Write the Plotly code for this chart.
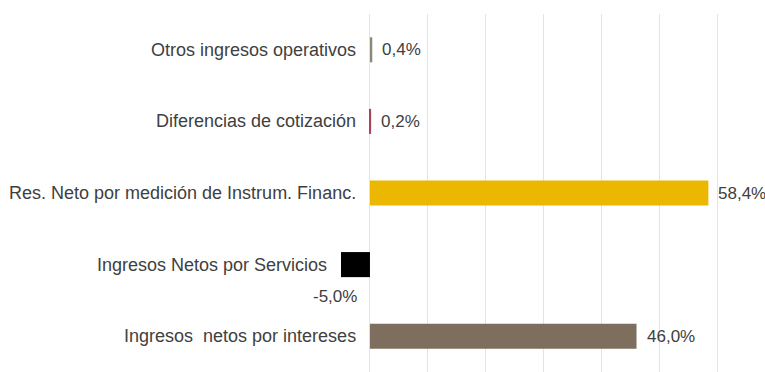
import plotly.graph_objects as go

categories = [
    "Ingresos  netos por intereses",
    "Ingresos Netos por Servicios",
    "Res. Neto por medición de Instrum. Financ.",
    "Diferencias de cotización",
    "Otros ingresos operativos",
]
values = [46.0, -5.0, 58.4, 0.2, 0.4]
value_labels = ["46,0%", "-5,0%", "58,4%", "0,2%", "0,4%"]
colors = ["#7d6e5e", "#000000", "#ebb700", "#a84455", "#8a8a78"]

CAT_FONT = dict(family="Liberation Sans, Arial, sans-serif", size=18, color="#404040")
VAL_FONT = dict(family="Liberation Sans, Arial, sans-serif", size=17, color="#404040")

fig = go.Figure()
fig.add_trace(go.Bar(
    x=values,
    y=categories,
    orientation="h",
    width=0.35,
    marker=dict(color=colors, line=dict(width=0)),
    hoverinfo="skip",
))

annotations = []
for cat, v, lab in zip(categories, values, value_labels):
    annotations.append(dict(
        x=min(0, v), y=cat, xref="x", yref="y", text=cat, showarrow=False,
        xanchor="right", yanchor="middle", xshift=-12, font=CAT_FONT,
    ))
    if v >= 0:
        annotations.append(dict(
            x=v, y=cat, xref="x", yref="y", text=lab, showarrow=False,
            xanchor="left", yanchor="middle", xshift=8, font=VAL_FONT,
        ))
    else:
        annotations.append(dict(
            x=v, y=cat, xref="x", yref="y", text=lab, showarrow=False,
            xanchor="center", yanchor="middle", xshift=-6, yshift=-32, font=VAL_FONT,
        ))

fig.update_layout(
    width=765, height=372,
    margin=dict(l=312, r=1, t=14, b=0),
    paper_bgcolor="white", plot_bgcolor="white",
    showlegend=False,
    annotations=annotations,
    xaxis=dict(range=[-10, 68], dtick=10, tick0=0, showgrid=True,
               gridcolor="#e4e4e4", gridwidth=1, zeroline=True,
               zerolinecolor="#e4e4e4", zerolinewidth=1,
               showticklabels=False, showline=False, fixedrange=True),
    yaxis=dict(categoryorder="array", categoryarray=categories,
               range=[-0.5, 4.5], showticklabels=False, showgrid=False,
               zeroline=False, showline=False, fixedrange=True),
)

fig.write_html("out.html")
